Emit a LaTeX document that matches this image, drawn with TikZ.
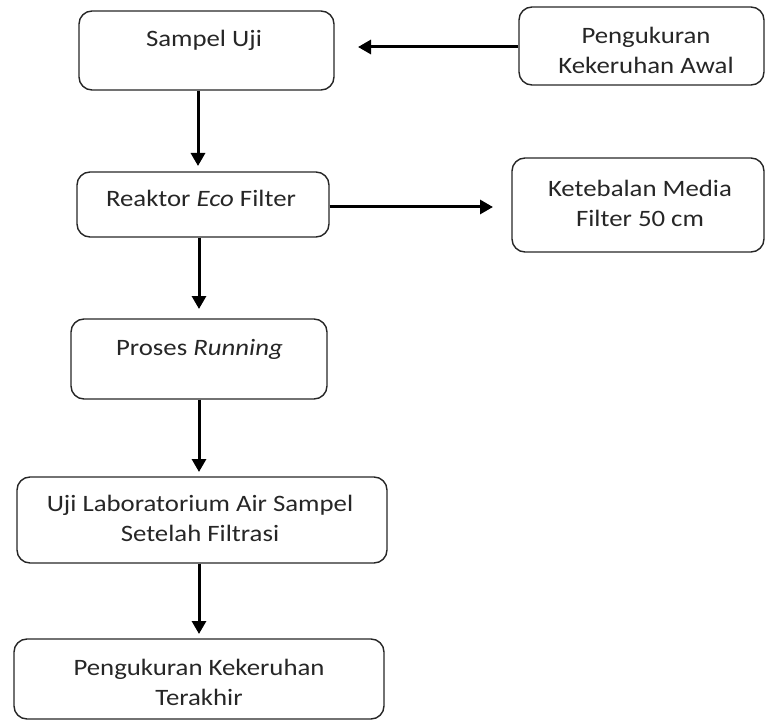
\documentclass[tikz,border=0pt]{standalone}
\usepackage{fontspec}
\setmainfont[FakeStretch=1.14]{Carlito}
\usetikzlibrary{arrows.meta}
\begin{document}
\begin{tikzpicture}[x=1pt,y=-1pt,
  box/.style={draw=black!85, line width=1.4pt, rounded corners=13pt, inner sep=0pt},
  txt/.style={inner sep=0pt, align=center, text=black!85, font=\fontsize{23.5}{30}\selectfont, anchor=base},
  arr/.style={draw=black, line width=3pt, -{Triangle[length=13pt,width=14pt]}}]
\useasboundingbox (0,0) rectangle (766,722);
% boxes
\node[box, minimum width=255pt, minimum height=79pt] (su) at (206.5,50.5) {};
\node[box, minimum width=245pt, minimum height=78pt] (pa) at (641.5,46) {};
\node[box, minimum width=252pt, minimum height=65pt] (rf) at (203,204.5) {};
\node[box, minimum width=252pt, minimum height=94pt] (kt) at (638,205) {};
\node[box, minimum width=256pt, minimum height=80pt] (pr) at (199,359) {};
\node[box, minimum width=370pt, minimum height=86pt] (uj) at (202,520) {};
\node[box, minimum width=370pt, minimum height=80pt] (fn) at (199,679) {};
% texts (base = baseline of last line)
\node[txt] (sut) at (204,47) {Sampel Uji};
\node[txt] (pat) at (646,74) {Pengukuran\\Kekeruhan Awal};
\node[txt] (rft) at (201,207) {Reaktor \textit{Eco} Filter};
\node[txt] (ktt) at (640,227) {Ketebalan Media\\Filter 50 cm};
\node[txt] (prt) at (199.5,355) {Proses \textit{Running}};
\node[txt] (ujt) at (200,541) {Uji Laboratorium Air Sampel\\Setelah Filtrasi};
\node[txt] (fnt) at (199,705) {Pengukuran Kekeruhan\\Terakhir};
% arrow ends
\coordinate (e1) at (358,47);
\coordinate (e2) at (198,166);
\coordinate (e3) at (493,207);
\coordinate (e4) at (199,309);
\coordinate (e5) at (199,472);
\coordinate (e6) at (199,634);
% connectors
\draw[arr] (pa.west |- e1) -- (e1);
\draw[arr] (e2 |- su.south) -- (e2);
\draw[arr] (rf.east |- e3) -- (e3);
\draw[arr] (e4 |- rf.south) -- (e4);
\draw[arr] (e5 |- pr.south) -- (e5);
\draw[arr] (e6 |- uj.south) -- (e6);
\end{tikzpicture}
\end{document}
